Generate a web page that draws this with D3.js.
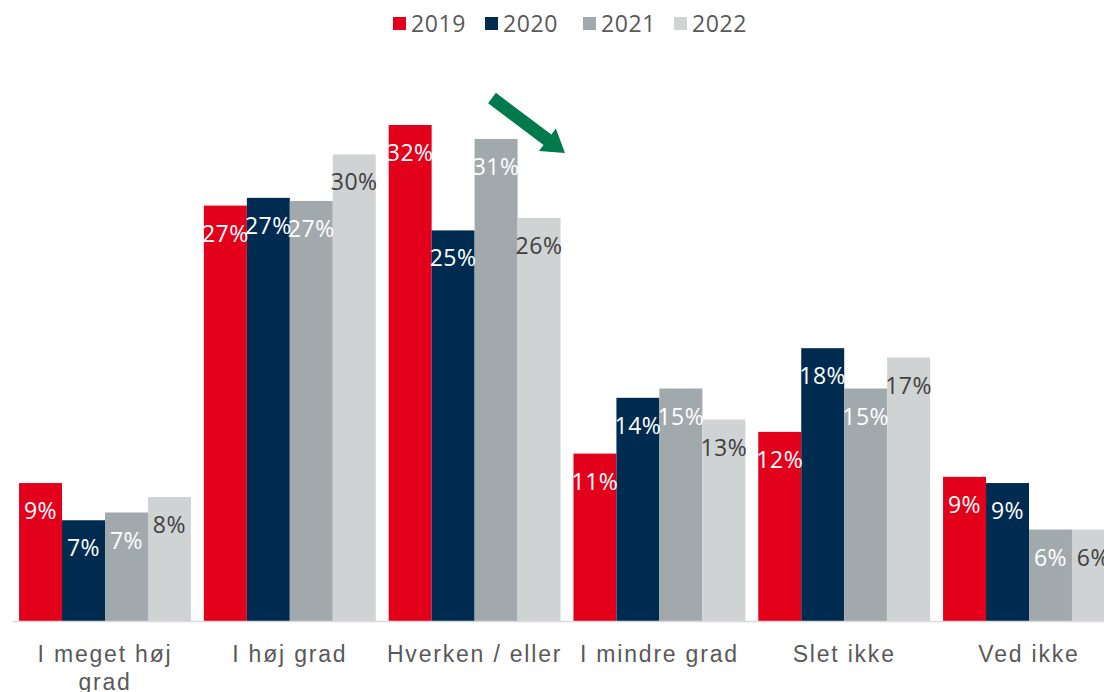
<!DOCTYPE html>
<html>
<head>
<meta charset="utf-8">
<script src="https://cdn.jsdelivr.net/npm/d3@7"></script>
<style>
  body { margin: 0; background: #fff; }
  svg { display: block; font-family: "Open Sans", sans-serif; }
</style>
</head>
<body>
<div id="chart"></div>
<script>
// categories and series
var categories = ["I meget høj grad", "I høj grad", "Hverken / eller", "I mindre grad", "Slet ikke", "Ved ikke"];
var years = ["2019", "2020", "2021", "2022"];
var v2019 = [8.9, 26.8, 32.0, 10.8, 12.2, 9.3];
var v2020 = [6.5, 27.3, 25.2, 14.4, 17.6, 8.9];
var v2021 = [7.0, 27.1, 31.1, 15.0, 15.0, 5.9];
var v2022 = [8.0, 30.1, 26.0, 13.0, 17.0, 5.9];

var colors = ["#e3001b", "#002b51", "#a2a9ad", "#d0d3d4"];
var labelColors = ["#ffffff", "#ffffff", "#ffffff", "#404040"];

var width = 1104, height = 692;
var baseY = 621, topY = 125;

var data = categories.map(function(c, i) {
  return {cat: c, vals: [v2019[i], v2020[i], v2021[i], v2022[i]]};
});

var svg = d3.select("#chart").append("svg")
  .attr("width", width)
  .attr("height", height);

var x0 = d3.scaleBand()
  .domain(categories)
  .range([12.6, 1121.4])
  .paddingInner(0.07)
  .paddingOuter(0.035);

var x1 = d3.scaleBand()
  .domain(years)
  .range([0, x0.bandwidth()]);

var y = d3.scaleLinear()
  .domain([0, 32])
  .range([baseY, topY]);

// bars
var groups = svg.append("g")
  .selectAll("g")
  .data(data)
  .join("g")
  .attr("transform", d => `translate(${x0(d.cat)},0)`);

groups.selectAll("rect")
  .data(d => d.vals.map((v, k) => ({year: years[k], v: v, k: k})))
  .join("rect")
  .attr("x", d => x1(d.year))
  .attr("y", d => y(d.v))
  .attr("width", x1.bandwidth())
  .attr("height", d => baseY - y(d.v))
  .attr("fill", d => colors[d.k]);

groups.selectAll("text")
  .data(d => d.vals.map((v, k) => ({year: years[k], v: v, k: k})))
  .join("text")
  .attr("x", d => x1(d.year) + x1.bandwidth() / 2)
  .attr("y", d => y(d.v) + 36)
  .attr("text-anchor", "middle")
  .attr("font-size", 23)
  .attr("letter-spacing", 0.5)
  .attr("fill", d => labelColors[d.k])
  .text(d => Math.round(d.v) + "%");

// baseline
svg.append("line")
  .attr("x1", 13).attr("x2", width)
  .attr("y1", baseY + 0.5).attr("y2", baseY + 0.5)
  .attr("stroke", "#d9d9d9")
  .attr("stroke-width", 1.5);

// category labels
var xAxis = svg.append("g")
  .attr("transform", `translate(0,${baseY})`)
  .call(d3.axisBottom(x0).tickSize(0).tickPadding(0));
xAxis.select(".domain").remove();
xAxis.selectAll("text").remove();
xAxis.selectAll(".tick").each(function(d) {
  var t = d3.select(this).append("text")
    .attr("text-anchor", "middle")
    .attr("font-size", 23)
    .attr("letter-spacing", 1.8)
    .attr("fill", "#595959");
  var lines = d === "I meget høj grad" ? ["I meget høj", "grad"] : [d];
  lines.forEach(function(l, i) {
    t.append("tspan").attr("x", 0).attr("y", 41 + i * 28).text(l);
  });
});

// legend
var legendX = [393, 485, 583, 674];
var legend = svg.append("g");
years.forEach(function(yr, i) {
  legend.append("rect")
    .attr("x", legendX[i]).attr("y", 17)
    .attr("width", 13).attr("height", 13)
    .attr("fill", colors[i]);
  legend.append("text")
    .attr("x", legendX[i] + 18).attr("y", 32)
    .attr("font-size", 23)
    .attr("letter-spacing", 0.6)
    .attr("fill", "#595959")
    .text(yr);
});

// green arrow
var ax1 = 492, ay1 = 98, ax2 = 565, ay2 = 153;
var ang = Math.atan2(ay2 - ay1, ax2 - ax1);
var len = Math.hypot(ax2 - ax1, ay2 - ay1);
var shaft = 6.5, head = 14, headLen = 22;
var pts = [[0, -shaft], [len - headLen, -shaft], [len - headLen, -head], [len, 0],
           [len - headLen, head], [len - headLen, shaft], [0, shaft]];
svg.append("polygon")
  .attr("points", pts.map(p => p.join(",")).join(" "))
  .attr("transform", `translate(${ax1},${ay1}) rotate(${ang * 180 / Math.PI})`)
  .attr("fill", "#007a4d");
</script>
</body>
</html>
